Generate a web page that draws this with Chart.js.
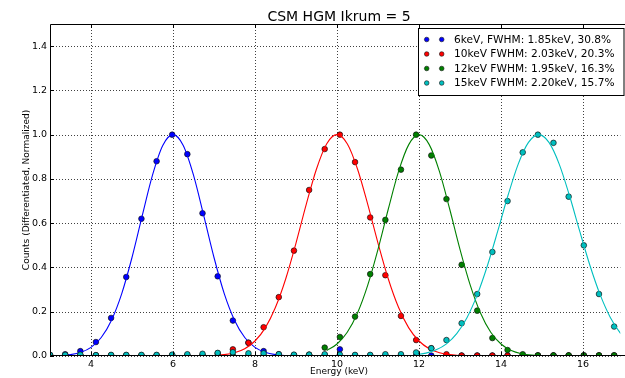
<!DOCTYPE html>
<html>
<head>
<meta charset="utf-8">
<script src="https://cdn.jsdelivr.net/npm/chart.js@4.4.1/dist/chart.umd.min.js"></script>
<style>
html, body { margin: 0; padding: 0; background: #fff; }
#wrap { width: 625px; height: 378px; }
</style>
</head>
<body>
<div id="wrap"><canvas id="chart" width="625" height="378"></canvas></div>
<script>
// measured points (keV)
const energies = [3.00, 3.37, 3.74, 4.12, 4.49, 4.86, 5.23, 5.60, 5.98, 6.35, 6.72, 7.09, 7.46, 7.84, 8.21, 8.58, 8.95, 9.32, 9.70, 10.07,
  10.44, 10.81, 11.18, 11.56, 11.93, 12.30, 12.67, 13.04, 13.42, 13.79, 14.16, 14.53, 14.90, 15.28, 15.65, 16.02, 16.39, 16.76];

const counts6 = [0.005, 0.008, 0.022, 0.063, 0.172, 0.357, 0.62, 0.88, 1.0, 0.912, 0.645, 0.36, 0.16, 0.06, 0.022, 0.008, 0.004, 0.003, 0.004, 0.03,
  0.002, 0.002, 0.002, 0.002, 0.002, 0.002, 0.002, 0.002, 0.002, 0.002, 0.002, 0.002, 0.002, 0.002, 0.002, 0.002, 0.002, 0.002];
const counts10 = [0.003, 0.003, 0.003, 0.003, 0.003, 0.003, 0.003, 0.003, 0.003, 0.003, 0.003, 0.012, 0.03, 0.06, 0.13, 0.266, 0.476, 0.75, 0.935, 1.0,
  0.876, 0.626, 0.365, 0.181, 0.072, 0.035, 0.008, 0.002, 0.002, 0.002, 0.002, 0.002, 0.002, 0.002, 0.002, 0.002, 0.002, 0.002];
const counts12 = [0.002, 0.002, 0.002, 0.002, 0.002, 0.002, 0.002, 0.002, 0.002, 0.002, 0.002, 0.002, 0.002, 0.002, 0.002, 0.002, 0.002, 0.006, 0.038, 0.086,
  0.178, 0.37, 0.615, 0.842, 1.0, 0.906, 0.709, 0.412, 0.205, 0.081, 0.027, 0.008, 0.003, 0.003, 0.003, 0.003, 0.003, 0.003];
const counts15 = [0.005, 0.005, 0.006, 0.004, 0.005, 0.005, 0.005, 0.005, 0.006, 0.008, 0.01, 0.014, 0.017, 0.012, 0.012, 0.008, 0.006, 0.006, 0.008, 0.006,
  0.005, 0.005, 0.008, 0.008, 0.016, 0.035, 0.072, 0.148, 0.28, 0.47, 0.70, 0.92, 1.0, 0.963, 0.72, 0.50, 0.28, 0.133];

// fitted curves
const fit6X = [3.00, 3.25, 3.50, 3.75, 4.00, 4.25, 4.50, 4.75, 5.00, 5.25, 5.50, 5.75, 6.00, 6.25, 6.50, 6.75, 7.00, 7.25, 7.50, 7.75, 8.00, 8.25, 8.50, 8.75, 9.00];
const fit6Y = [0.0007, 0.0022, 0.0063, 0.0166, 0.0392, 0.0837, 0.162, 0.282, 0.445, 0.634, 0.817, 0.951, 1, 0.951, 0.817, 0.634, 0.445, 0.282, 0.162, 0.0837, 0.0392, 0.0166, 0.0063, 0.0022, 0.0007];
const fit10X = [7.00, 7.25, 7.50, 7.75, 8.00, 8.25, 8.50, 8.75, 9.00, 9.25, 9.50, 9.75, 10.00, 10.25, 10.50, 10.75, 11.00, 11.25, 11.50, 11.75, 12.00, 12.25, 12.50, 12.75, 13.00];
const fit10Y = [0.0023, 0.0062, 0.0149, 0.0332, 0.0678, 0.127, 0.220, 0.349, 0.510, 0.685, 0.845, 0.959, 1, 0.959, 0.845, 0.685, 0.510, 0.349, 0.220, 0.127, 0.0678, 0.0332, 0.0149, 0.0062, 0.0023];
const fit12X = [9.75, 10.00, 10.25, 10.50, 10.75, 11.00, 11.25, 11.50, 11.75, 12.00, 12.25, 12.50, 12.75, 13.00, 13.25, 13.50, 13.75, 14.00, 14.25, 14.50, 14.75, 15.00];
const fit12Y = [0.0249, 0.0541, 0.107, 0.194, 0.320, 0.482, 0.663, 0.833, 0.955, 1, 0.955, 0.833, 0.663, 0.482, 0.320, 0.194, 0.107, 0.0541, 0.0249, 0.0105, 0.0040, 0.0014];
const fit15X = [11.92, 12.17, 12.42, 12.67, 12.92, 13.17, 13.42, 13.67, 13.92, 14.17, 14.42, 14.67, 14.92, 15.17, 15.42, 15.67, 15.92, 16.17, 16.42, 16.67, 16.92, 17.17];
const fit15Y = [0.0058, 0.013, 0.028, 0.055, 0.101, 0.173, 0.276, 0.409, 0.564, 0.725, 0.867, 0.965, 1, 0.965, 0.867, 0.725, 0.564, 0.409, 0.276, 0.173, 0.101, 0.055];

const legendLabels = ['6keV, FWHM: 1.85keV, 30.8%', '10keV FWHM: 2.03keV, 20.3%', '12keV FWHM: 1.95keV, 16.3%', '15keV FWHM: 2.20keV, 15.7%'];
const colors = ['#0000ff', '#ff0000', '#008000', '#00bfbf'];
const xTicks = [4, 6, 8, 10, 12, 14, 16];
const yTicks = [0.0, 0.2, 0.4, 0.6, 0.8, 1.0, 1.2, 1.4];

const FONT = '"DejaVu Sans", sans-serif';

function pts(xs, ys) {
  return xs.map((x, i) => ({ x: x, y: ys[i] }));
}

const pointSets = [counts6, counts10, counts12, counts15];
const fits = [[fit6X, fit6Y], [fit10X, fit10Y], [fit12X, fit12Y], [fit15X, fit15Y]];

const datasets = [];
pointSets.forEach((ys, i) => {
  datasets.push({
    label: legendLabels[i],
    data: pts(energies, ys),
    showLine: false,
    pointRadius: 2.8,
    pointBackgroundColor: colors[i],
    pointBorderColor: '#111',
    pointBorderWidth: 0.7,
    order: 8 - i * 2
  });
  datasets.push({
    label: 'fit' + i,
    data: pts(fits[i][0], fits[i][1]),
    showLine: true,
    pointRadius: 0,
    borderColor: colors[i],
    borderWidth: 1.1,
    cubicInterpolationMode: 'monotone',
    order: 7 - i * 2
  });
});

const decor = {
  id: 'decor',
  beforeDatasetsDraw(chart) {
    const ctx = chart.ctx, a = chart.chartArea;
    const xs = chart.scales.x, ys = chart.scales.y;
    ctx.save();
    ctx.strokeStyle = 'rgba(0,0,0,0.75)';
    ctx.lineWidth = 1;
    ctx.setLineDash([1, 2]);
    xTicks.forEach(v => {
      const px = Math.round(xs.getPixelForValue(v)) + 0.5;
      ctx.beginPath(); ctx.moveTo(px, a.top); ctx.lineTo(px, a.bottom); ctx.stroke();
    });
    yTicks.forEach(v => {
      const py = Math.round(ys.getPixelForValue(v)) + 0.5;
      ctx.beginPath(); ctx.moveTo(a.left, py); ctx.lineTo(a.right, py); ctx.stroke();
    });
    ctx.restore();
  },
  afterDatasetsDraw(chart) {
    const ctx = chart.ctx, a = chart.chartArea;
    const xs = chart.scales.x, ys = chart.scales.y;
    ctx.save();
    ctx.strokeStyle = '#000';
    ctx.lineWidth = 1;
    // frame
    ctx.beginPath();
    ctx.moveTo(a.right + 5, a.top + 0.5); ctx.lineTo(a.left + 0.5, a.top + 0.5);
    ctx.lineTo(a.left + 0.5, a.bottom - 0.5); ctx.lineTo(a.right + 5, a.bottom - 0.5);
    ctx.stroke();
    // inward ticks
    xTicks.forEach(v => {
      const px = Math.round(xs.getPixelForValue(v)) + 0.5;
      ctx.beginPath();
      ctx.moveTo(px, a.top); ctx.lineTo(px, a.top + 4);
      ctx.moveTo(px, a.bottom); ctx.lineTo(px, a.bottom - 4);
      ctx.stroke();
    });
    yTicks.forEach(v => {
      const py = Math.round(ys.getPixelForValue(v)) + 0.5;
      ctx.beginPath(); ctx.moveTo(a.left, py); ctx.lineTo(a.left + 4, py); ctx.stroke();
    });

    // legend box
    const bx = 418.5, by = 28.5, bw = 205.5, bh = 67;
    ctx.fillStyle = '#fff';
    ctx.fillRect(bx, by, bw, bh);
    ctx.strokeRect(bx, by, bw, bh);
    const rows = [39.5, 54, 68.5, 83];
    ctx.font = '10.6px ' + FONT;
    ctx.textBaseline = 'middle';
    ctx.textAlign = 'left';
    rows.forEach((ry, i) => {
      [426.7, 441.7].forEach(mx => {
        ctx.beginPath();
        ctx.arc(mx, ry, 2.3, 0, Math.PI * 2);
        ctx.fillStyle = colors[i];
        ctx.fill();
        ctx.lineWidth = 0.6;
        ctx.strokeStyle = '#111';
        ctx.stroke();
      });
      ctx.fillStyle = '#000';
      ctx.fillText(legendLabels[i], 454, ry + 0.5);
    });
    ctx.restore();
  },
  afterDraw(chart) {
    const ctx = chart.ctx;
    ctx.save();
    ctx.fillStyle = '#000';
    ctx.textAlign = 'center';
    ctx.textBaseline = 'alphabetic';
    ctx.font = '14px ' + FONT;
    ctx.fillText('CSM HGM Ikrum = 5', 339, 20.5);
    ctx.font = '9px ' + FONT;
    ctx.textBaseline = 'middle';
    ctx.fillText('Energy (keV)', 339, 372);
    ctx.translate(27, 190);
    ctx.rotate(-Math.PI / 2);
    ctx.fillText('Counts (Differentiated, Normalized)', 0, 0);
    ctx.restore();
  }
};

new Chart(document.getElementById('chart'), {
  type: 'scatter',
  data: { datasets: datasets },
  options: {
    responsive: false,
    animation: false,
    devicePixelRatio: 1,
    layout: { padding: { top: 24, right: 0, left: 0, bottom: 0 } },
    plugins: { legend: { display: false }, tooltip: { enabled: false }, title: { display: false } },
    scales: {
      x: {
        type: 'linear', min: 3, max: 16.91,
        afterFit: s => { s.height = 22; },
        afterBuildTicks: s => { s.ticks = xTicks.map(v => ({ value: v })); },
        grid: { display: false, drawTicks: false },
        border: { display: false },
        ticks: { font: { family: FONT, size: 9.5 }, color: '#000', padding: 3, maxRotation: 0 }
      },
      y: {
        type: 'linear', min: 0, max: 1.5,
        afterFit: s => { s.width = 50; },
        afterBuildTicks: s => { s.ticks = yTicks.map(v => ({ value: v })); },
        grid: { display: false, drawTicks: false },
        border: { display: false },
        ticks: { font: { family: FONT, size: 9.5 }, color: '#000', padding: 3, callback: v => v.toFixed(1) }
      }
    }
  },
  plugins: [decor]
});
</script>
</body>
</html>
